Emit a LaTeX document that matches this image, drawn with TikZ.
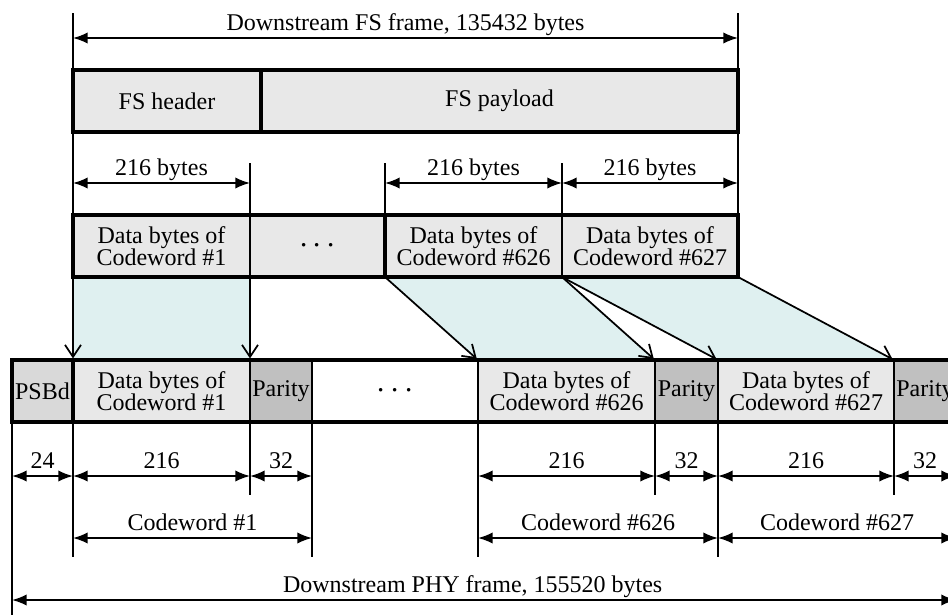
\documentclass[tikz,border=0pt]{standalone}
\usepackage{fontspec}
\setmainfont{Liberation Serif}
\usepackage{tikz}
\usetikzlibrary{arrows.meta, positioning, calc}
\definecolor{cellgray}{RGB}{232, 232, 232}
\definecolor{psbdgray}{RGB}{217, 217, 217}
\definecolor{paritygray}{RGB}{192, 192, 192}
\definecolor{maplight}{RGB}{223, 240, 240}
\newcommand{\figfont}{\fontsize{18}{16.5}\selectfont}
\newcommand{\gapdots}{{\fontsize{26}{26}\selectfont$\cdot$\hspace{3.5pt}$\cdot$\hspace{3.5pt}$\cdot$}}

\begin{document}
\begin{tikzpicture}[
    x=0.75pt, y=-0.75pt,
    cell/.style={rectangle, draw, line width=1.3pt, fill=cellgray, inner sep=0pt, outer sep=0pt, minimum height=46.5pt, align=center, font=\figfont},
    frame/.style={line width=2.8pt},
    ext/.style={line width=1.1pt},
    dim/.style={{Latex[length=11pt,width=8.5pt]}-{Latex[length=11pt,width=8.5pt]}, line width=1.3pt},
    lbl/.style={above, inner sep=3pt, text height=0.7em, text depth=0.22em, font=\figfont},
    map/.style={-{Straight Barb[length=9pt,width=12pt,line width=1.3pt]}, line width=1.3pt, shorten >=1.2pt}
]
    \useasboundingbox (0,0) rectangle (948,615);
    \clip (0,0) rectangle (948,615);

    % FS frame
    \node[cell, anchor=north west, minimum width=141pt] (hdr) at (73,70) {FS header};
    \node[cell, right=0pt of hdr, minimum width=357.75pt] (pay) {FS payload};

    % Data bytes taken from the FS frame
    \node[cell, anchor=north west, minimum width=132.75pt] (d1) at (73,215) {Data bytes of\\Codeword \#1};
    \node[cell, right=0pt of d1, minimum width=101.25pt] (ddots) {\gapdots};
    \node[cell, right=0pt of ddots, minimum width=132.75pt] (d626) {Data bytes of\\Codeword \#626};
    \node[cell, right=0pt of d626, minimum width=132pt] (d627) {Data bytes of\\Codeword \#627};

    % PHY frame
    \node[cell, fill=psbdgray, anchor=north west, minimum width=45.75pt] (psbd) at (12,360) {PSBd};
    \node[cell, right=0pt of psbd, minimum width=132.75pt] (b1) {Data bytes of\\Codeword \#1};
    \node[cell, fill=paritygray, right=0pt of b1, minimum width=46.5pt] (p1) {Parity};
    \node[cell, fill=white, right=0pt of p1, minimum width=124.5pt] (bdots) {\gapdots};
    \node[cell, right=0pt of bdots, minimum width=132.75pt] (b626) {Data bytes of\\Codeword \#626};
    \node[cell, fill=paritygray, right=0pt of b626, minimum width=47.25pt] (p626) {Parity};
    \node[cell, right=0pt of p626, minimum width=132pt] (b627) {Data bytes of\\Codeword \#627};
    \node[cell, fill=paritygray, right=0pt of b627, minimum width=46.5pt] (p627) {Parity};

    % Mapping areas
    \foreach \n in {1,626,627}
        \fill[maplight] (d\n.south west) -- (d\n.south east) -- (b\n.north east) -- (b\n.north west) -- cycle;

    % Heavy outlines
    \draw[frame] (hdr.north west) rectangle (pay.south east);
    \draw[frame] (hdr.north east) -- (hdr.south east);
    \draw[frame] (d1.north west) rectangle (d627.south east);
    \draw[frame] (ddots.north east) -- (ddots.south east);
    \draw[frame] (psbd.north west) rectangle (p627.south east);
    \draw[frame] (psbd.north east) -- (psbd.south east);

    % Mapping arrows
    \foreach \n in {1,626,627} {
        \draw[map] (d\n.south west) -- (b\n.north west);
        \draw[map] (d\n.south east) -- (b\n.north east);
    }

    % Rows of the dimension lines
    \coordinate (ytop) at (0,13);
    \coordinate (yfs) at (0,38);
    \coordinate (ytick) at (0,163);
    \coordinate (ybyt) at (0,183);
    \coordinate (ylen) at (0,476);
    \coordinate (yshort) at (0,495);
    \coordinate (ycw) at (0,538);
    \coordinate (ylong) at (0,557);
    \coordinate (yphy) at (0,600);
    \coordinate (yend) at (0,615);

    % Extension lines, top
    \draw[ext] (hdr.north west) -- (hdr.north west |- ytop);
    \draw[ext] (pay.north east) -- (pay.north east |- ytop);
    \draw[ext] (hdr.south west) -- (d1.north west);
    \draw[ext] (pay.south east) -- (d627.north east);
    \foreach \a in {d1.north east, d626.north west, d626.north east}
        \draw[ext] (\a) -- (\a |- ytick);

    % Extension lines, bottom
    \draw[ext] (psbd.south west) -- (psbd.south west |- yend);
    \foreach \a in {b1.south west, p1.south east, b626.south west, b627.south west}
        \draw[ext] (\a) -- (\a |- ylong);
    \foreach \a in {b1.south east, b626.south east, b627.south east}
        \draw[ext] (\a) -- (\a |- yshort);

    % Dimensions, top
    \draw[dim] (hdr.west |- yfs) -- node[lbl] {Downstream FS frame, 135432 bytes} (pay.east |- yfs);
    \foreach \n in {1,626,627}
        \draw[dim] (d\n.west |- ybyt) -- node[lbl] {216 bytes} (d\n.east |- ybyt);

    % Dimensions, bottom
    \draw[dim] (psbd.west |- ylen) -- node[lbl] {24} (psbd.east |- ylen);
    \foreach \n in {1,626,627} {
        \draw[dim] (b\n.west |- ylen) -- node[lbl] {216} (b\n.east |- ylen);
        \draw[dim] (p\n.west |- ylen) -- node[lbl] {32} (p\n.east |- ylen);
        \draw[dim] (b\n.west |- ycw) -- node[lbl] {Codeword \#\n} (p\n.east |- ycw);
    }
    \draw[dim] (psbd.west |- yphy) -- node[lbl, pos=0.488] {Downstream PHY frame, 155520 bytes} (p627.east |- yphy);
\end{tikzpicture}
\end{document}
